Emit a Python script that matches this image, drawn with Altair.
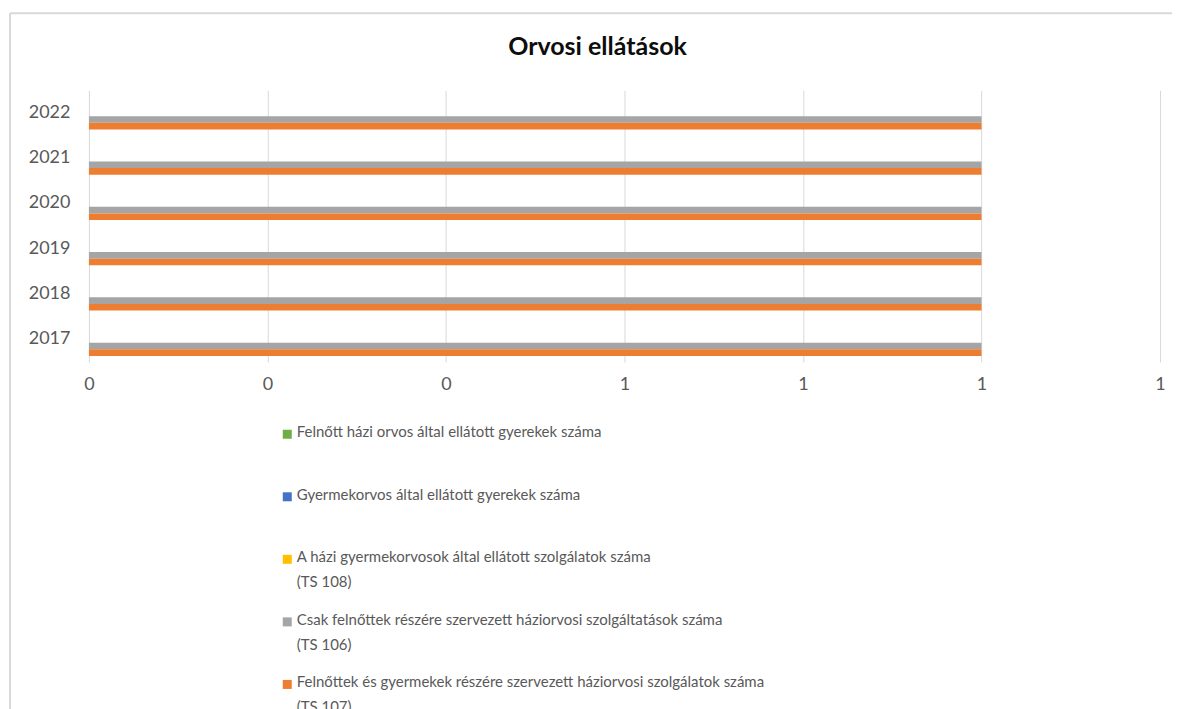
import altair as alt
import pandas as pd

# ---- data ----
title_text = "Orvosi ellátások"
years = [2017, 2018, 2019, 2020, 2021, 2022]
series = [
    "Felnőtt házi orvos által ellátott gyerekek száma",
    "Gyermekorvos által ellátott gyerekek száma",
    "A házi gyermekorvosok által ellátott szolgálatok száma (TS 108)",
    "Csak felnőttek részére szervezett háziorvosi szolgáltatások száma (TS 106)",
    "Felnőttek és gyermekek részére szervezett háziorvosi szolgálatok száma (TS 107)",
]
legend_labels = [
    "Felnőtt házi orvos által ellátott gyerekek száma",
    "Gyermekorvos által ellátott gyerekek száma",
    "A házi gyermekorvosok által ellátott szolgálatok száma\n(TS 108)",
    "Csak felnőttek részére szervezett háziorvosi szolgáltatások száma\n(TS 106)",
    "Felnőttek és gyermekek részére szervezett háziorvosi szolgálatok száma\n(TS 107)",
]
values_green = [0, 0, 0, 0, 0, 0]
values_blue = [0, 0, 0, 0, 0, 0]
values_yellow = [0, 0, 0, 0, 0, 0]
values_gray = [1, 1, 1, 1, 1, 1]
values_orange = [1, 1, 1, 1, 1, 1]
all_values = [values_green, values_blue, values_yellow, values_gray, values_orange]
x_ticks = [0, 0.2, 0.4, 0.6, 0.8, 1.0, 1.2]

colors = ["#70AD47", "#4472C4", "#FFC000", "#A5A5A5", "#ED7D31"]
FONT = "Lato"
LABEL_COLOR = "#595959"
FRAME = "#d9d9d9"

rows = []
for s, vals in zip(series, all_values):
    for yr, v in zip(years, vals):
        rows.append({"year": str(yr), "series": s, "value": v})
df = pd.DataFrame(rows)

color_scale = alt.Scale(domain=series, range=colors)

bars = alt.Chart(df).mark_bar().encode(
    x=alt.X(
        "value:Q",
        scale=alt.Scale(domain=[0, 1.2], nice=False, zero=True),
        axis=alt.Axis(
            values=x_ticks, format=".0f", title=None, grid=True, gridColor="#d9d9d9",
            domain=False, ticks=False, labelPadding=14, labelFontSize=18,
            labelColor=LABEL_COLOR, labelFont=FONT, labelFlush=False,
        ),
    ),
    y=alt.Y(
        "year:N",
        sort=[str(yr) for yr in reversed(years)],
        scale=alt.Scale(paddingInner=0.27, paddingOuter=0.135),
        axis=alt.Axis(
            title=None, domain=False, ticks=False, grid=False, labelPadding=19,
            labelFontSize=18, labelColor=LABEL_COLOR, labelFont=FONT,
        ),
    ),
    yOffset=alt.YOffset("series:N", sort=series, scale=alt.Scale(paddingInner=0, paddingOuter=0)),
    color=alt.Color("series:N", scale=color_scale, legend=None),
)

title_mark = alt.Chart(pd.DataFrame({"t": [title_text]})).mark_text(
    align="center", baseline="alphabetic", fontSize=25, fontWeight="bold",
    font=FONT, color="#0d0d0d",
).encode(text="t:N", x=alt.value(509), y=alt.value(-35))

top_view = alt.layer(bars, title_mark).properties(width=1072, height=272)

# legend panel (with the chart-area frame lines)
frame_df = pd.DataFrame({"k": [0]})
frame_top = alt.Chart(frame_df).mark_rule(color=FRAME, strokeWidth=2).encode(
    x=alt.value(-79), x2=alt.value(1084), y=alt.value(-390)
)
frame_left = alt.Chart(frame_df).mark_rule(color=FRAME, strokeWidth=2).encode(
    x=alt.value(-79), y=alt.value(-390), y2=alt.value(330)
)

leg_df = pd.DataFrame({"series": series, "label": legend_labels})
leg_base = alt.Chart(leg_df).encode(
    y=alt.Y("series:N", sort=series, axis=None, scale=alt.Scale(paddingInner=0, paddingOuter=0))
)
squares = leg_base.mark_square(size=81, opacity=1).encode(
    x=alt.value(198.5),
    color=alt.Color("series:N", scale=color_scale, legend=None),
)
texts = leg_base.mark_text(
    align="left", baseline="top", dy=-9, lineBreak="\n", lineHeight=25,
    fontSize=15, font=FONT, color=LABEL_COLOR,
).encode(x=alt.value(208), text="label:N")
legend_view = alt.layer(frame_top, frame_left, squares, texts).properties(width=1072, height=313)

chart = alt.vconcat(top_view, legend_view, spacing=41, bounds="flush").properties(
    padding={"left": 1, "top": 4, "right": 0, "bottom": 0},
    background="white",
).configure_view(strokeWidth=0)

chart.save("out.html", embed_options={"renderer": "svg", "actions": False})
